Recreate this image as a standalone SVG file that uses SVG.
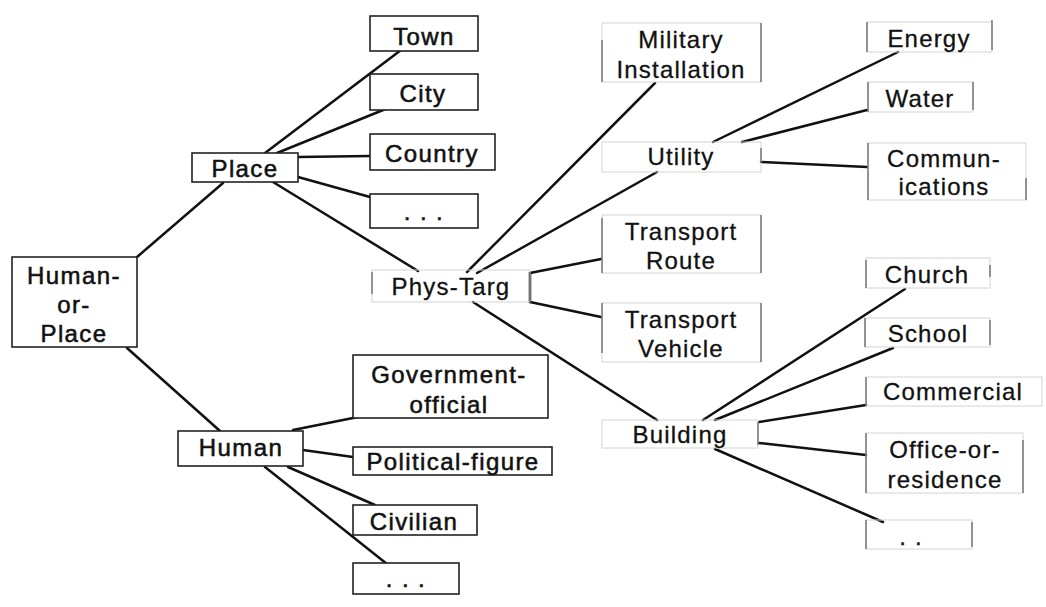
<svg xmlns="http://www.w3.org/2000/svg" width="1046" height="607" viewBox="0 0 1046 607">
<style>
.bg{fill:#fff}
.box{fill:#fff;stroke:#222;stroke-width:1.6}
.faint{fill:none;stroke:#d4d4d4;stroke-width:1}
.side{fill:none;stroke:#666;stroke-width:1.3}
text{font-family:"Liberation Sans",Arial,sans-serif;font-size:24px;letter-spacing:1.2px;fill:#111;stroke:#111;stroke-width:0.3;text-anchor:middle}
.heavy text{stroke-width:0.55;letter-spacing:1.4px}
.edges line{stroke:#111;stroke-width:2.5;stroke-linecap:round}
</style>
<rect class="bg" x="0" y="0" width="1046" height="607"/>
<g class="edges" id="connectors">
<line x1="137" y1="257" x2="223" y2="183"/>
<line x1="127" y1="348" x2="220" y2="431"/>
<line x1="265" y1="153" x2="405" y2="47"/>
<line x1="277" y1="153" x2="393" y2="106"/>
<line x1="298" y1="157" x2="370" y2="156"/>
<line x1="298" y1="177" x2="370" y2="197"/>
<line x1="273" y1="182" x2="418" y2="271"/>
<line x1="467" y1="272" x2="655" y2="83"/>
<line x1="477" y1="273" x2="657" y2="172"/>
<line x1="530" y1="273" x2="601" y2="259"/>
<line x1="530" y1="302" x2="601" y2="317"/>
<line x1="530" y1="273" x2="530" y2="302"/>
<line x1="473" y1="302" x2="657" y2="420"/>
<line x1="713" y1="142" x2="898" y2="52"/>
<line x1="742" y1="142" x2="867" y2="110"/>
<line x1="761" y1="162" x2="867" y2="167"/>
<line x1="703" y1="420" x2="905" y2="289"/>
<line x1="715" y1="420" x2="893" y2="348"/>
<line x1="759" y1="422" x2="866" y2="405"/>
<line x1="759" y1="443" x2="866" y2="455"/>
<line x1="715" y1="449" x2="883" y2="522"/>
<line x1="293" y1="430" x2="363" y2="416"/>
<line x1="303" y1="450" x2="353" y2="457"/>
<line x1="288" y1="467" x2="375" y2="505"/>
<line x1="265" y1="467" x2="387" y2="564"/>
</g>
<g class="heavy">
<g id="human-or-place"><rect class="box" x="12" y="257" width="125" height="90"/><text x="74" y="284">Human-</text><text x="74" y="313">or-</text><text x="74" y="342">Place</text></g>
<g id="place"><rect class="box" x="192" y="153" width="106" height="29"/><text x="245" y="177">Place</text></g>
<g id="town"><rect class="box" x="370" y="16" width="108" height="35"/><text x="424" y="45">Town</text></g>
<g id="city"><rect class="box" x="370" y="74" width="108" height="36"/><text x="423" y="102">City</text></g>
<g id="country"><rect class="box" x="370" y="134" width="125" height="36"/><text x="432" y="162">Country</text></g>
<g id="place-more"><rect class="box" x="370" y="194" width="108" height="34"/><text x="424" y="220">. . .</text></g>
<g id="human"><rect class="box" x="178" y="431" width="125" height="35"/><text x="241" y="456">Human</text></g>
<g id="government-official"><rect class="box" x="353" y="355" width="195" height="63"/><text x="449" y="383">Government-</text><text x="449" y="413">official</text></g>
<g id="political-figure"><rect class="box" x="353" y="447" width="199" height="28"/><text x="453" y="470">Political-figure</text></g>
<g id="civilian"><rect class="box" x="353" y="505" width="124" height="30"/><text x="414" y="530">Civilian</text></g>
<g id="human-more"><rect class="box" x="353" y="563" width="106" height="31"/><text x="406" y="587">. . .</text></g>
</g>
<g id="phys-targ"><rect class="faint" x="372" y="270" width="158" height="32"/><path class="side" d="M372 272v22"/><text x="451" y="295">Phys-Targ</text></g>
<g id="military-installation"><rect class="faint" x="602" y="23" width="159" height="59"/><path class="side" d="M602 40v42M761 23v59"/><text x="681" y="48">Military</text><text x="681" y="78">Installation</text></g>
<g id="utility"><rect class="faint" x="602" y="142" width="159" height="30"/><path class="side" d="M761 148v15"/><text x="681" y="165">Utility</text></g>
<g id="transport-route"><rect class="faint" x="602" y="215" width="159" height="58"/><path class="side" d="M602 218v55M761 215v58"/><text x="681" y="240">Transport</text><text x="681" y="269">Route</text></g>
<g id="transport-vehicle"><rect class="faint" x="602" y="303" width="159" height="59"/><path class="side" d="M602 303v50M761 303v59"/><text x="681" y="328">Transport</text><text x="681" y="357">Vehicle</text></g>
<g id="building"><rect class="faint" x="602" y="420" width="156" height="28"/><path class="side" d="M758 422v23"/><text x="680" y="443">Building</text></g>
<g id="energy"><rect class="faint" x="867" y="22" width="125" height="30"/><path class="side" d="M867 22v30M992 20v30"/><text x="929" y="47">Energy</text></g>
<g id="water"><rect class="faint" x="868" y="82" width="105" height="30"/><path class="side" d="M868 82v30M973 82v28"/><text x="920" y="107">Water</text></g>
<g id="communications"><rect class="faint" x="868" y="143" width="158" height="57"/><path class="side" d="M868 143v57M1026 178v22"/><text x="944" y="167">Commun-</text><text x="944" y="195">ications</text></g>
<g id="church"><rect class="faint" x="866" y="258" width="124" height="30"/><path class="side" d="M866 260v28M990 265v12"/><text x="927" y="283">Church</text></g>
<g id="school"><rect class="faint" x="865" y="318" width="125" height="29"/><path class="side" d="M865 318v29M990 320v25"/><text x="928" y="342">School</text></g>
<g id="commercial"><rect class="faint" x="866" y="377" width="176" height="29"/><path class="side" d="M866 377v29"/><text x="953" y="400">Commercial</text></g>
<g id="office-or-residence"><rect class="faint" x="866" y="433" width="157" height="60"/><path class="side" d="M866 433v60M1023 440v53"/><text x="945" y="458">Office-or-</text><text x="945" y="488">residence</text></g>
<g id="building-more"><rect class="faint" x="866" y="520" width="106" height="29"/><path class="side" d="M866 520v29M972 522v25"/><text x="911" y="545">. .</text></g>
</svg>
